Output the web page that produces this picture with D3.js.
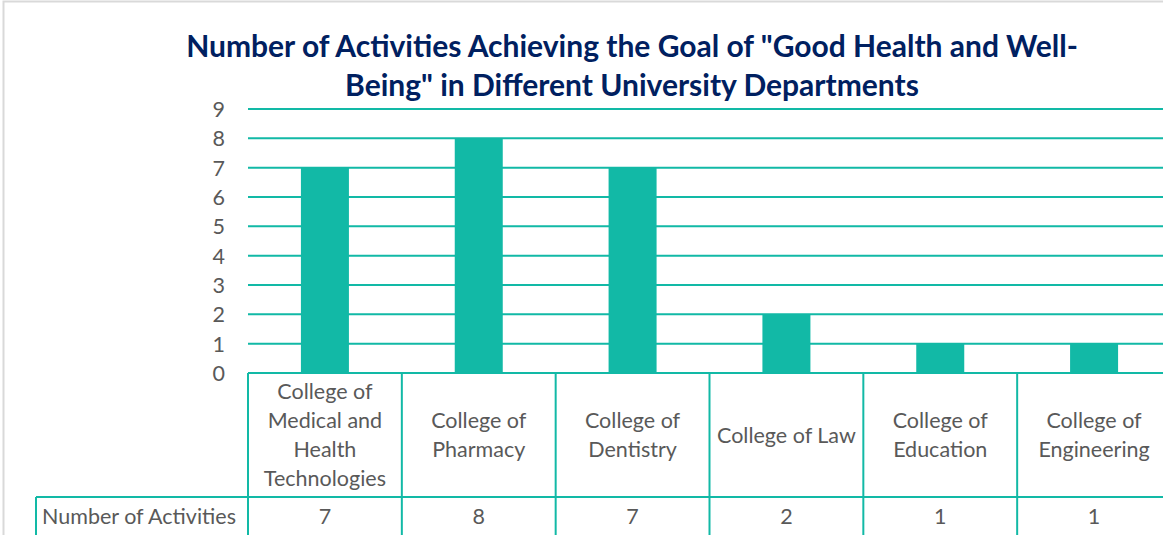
<!DOCTYPE html>
<html>
<head>
<meta charset="utf-8">
<script src="https://cdn.jsdelivr.net/npm/d3@7"></script>
<style>
  body { margin: 0; background: #fff; }
  svg { display: block; font-family: Lato, "Liberation Sans", sans-serif; }
</style>
</head>
<body>
<div id="chart"></div>
<script>
// data
const categories = [
    ["College of", "Medical and", "Health", "Technologies"],
    ["College of", "Pharmacy"],
    ["College of", "Dentistry"],
    ["College of Law"],
    ["College of", "Education"],
    ["College of", "Engineering"]
]
const activities = [7, 8, 7, 2, 1, 1]
const yTicks = [0, 1, 2, 3, 4, 5, 6, 7, 8, 9]
const titleLines = [
    "Number of Activities Achieving the Goal of \"Good Health and Well-",
    "Being\" in Different University Departments"
]
const seriesName = "Number of Activities"

const width = 1163
const height = 535
const teal = "#12b9a6"
const grey = "#595959"
const fontSize = "21.5px"

const plot = { left: 248, right: 1171, top: 109, bottom: 373 }

const svg = d3.select("#chart")
    .append("svg")
    .attr("width", width)
    .attr("height", height)

// chart border
svg.append("rect")
    .attr("x", 3.5)
    .attr("y", 1.5)
    .attr("width", width)
    .attr("height", height)
    .attr("fill", "none")
    .attr("stroke", "#d9d9d9")
    .attr("stroke-width", 2)

const xScale = d3.scaleBand()
    .domain(d3.range(categories.length))
    .range([plot.left, plot.right])
    .paddingInner(0)

const yScale = d3.scaleLinear()
    .domain([0, 9])
    .range([plot.bottom, plot.top])

// title
svg.append("g")
    .selectAll("text")
    .data(titleLines)
    .join("text")
    .attr("x", 632)
    .attr("y", (d, i) => 57 + i * 39)
    .attr("text-anchor", "middle")
    .attr("fill", "#002060")
    .style("font-weight", "bold")
    .style("font-size", "30px")
    .text(d => d)

// gridlines
svg.append("g")
    .selectAll("line")
    .data(yTicks.filter(d => d > 0))
    .join("line")
    .attr("x1", plot.left)
    .attr("x2", plot.right)
    .attr("y1", d => yScale(d))
    .attr("y2", d => yScale(d))
    .attr("stroke", teal)
    .attr("stroke-width", 2)

// y axis labels
const yAxis = d3.axisLeft(yScale)
    .tickValues(yTicks)
    .tickSize(0)
    .tickPadding(0)

const yAxisEl = svg.append("g")
    .attr("transform", `translate(225,0)`)
    .call(yAxis)
yAxisEl.select(".domain").remove()
yAxisEl.selectAll("text")
    .attr("fill", grey)
    .attr("dy", "0.35em")
    .style("font-family", "Lato, 'Liberation Sans', sans-serif")
    .style("font-size", fontSize)

// bars
const barW = 48
svg.append("g")
    .selectAll("rect")
    .data(activities)
    .join("rect")
    .attr("x", (d, i) => xScale(i) + xScale.bandwidth() / 2 - barW / 2)
    .attr("y", d => yScale(d))
    .attr("width", barW)
    .attr("height", d => yScale(0) - yScale(d))
    .attr("fill", teal)

// data table
const rowTop = plot.bottom
const rowMid = 497
const rowBottom = 560
const table = svg.append("g")
    .attr("stroke", teal)
    .attr("stroke-width", 2)

table.append("line")
    .attr("x1", plot.left).attr("x2", plot.right)
    .attr("y1", rowTop).attr("y2", rowTop)
table.append("line")
    .attr("x1", 36).attr("x2", plot.right)
    .attr("y1", rowMid).attr("y2", rowMid)
table.append("line")
    .attr("x1", 36).attr("x2", 36)
    .attr("y1", rowMid).attr("y2", rowBottom)
table.selectAll(".vline")
    .data(d3.range(categories.length + 1))
    .join("line")
    .attr("class", "vline")
    .attr("x1", d => plot.left + d * xScale.step())
    .attr("x2", d => plot.left + d * xScale.step())
    .attr("y1", rowTop)
    .attr("y2", rowBottom)

// category labels
const lineH = 29
const catCenter = (rowTop + rowMid) / 2
svg.append("g")
    .selectAll("text")
    .data(categories)
    .join("text")
    .attr("text-anchor", "middle")
    .attr("fill", grey)
    .style("font-size", fontSize)
    .each(function(lines, i) {
        const cx = xScale(i) + xScale.bandwidth() / 2
        const y0 = catCenter - (lines.length - 1) * lineH / 2
        d3.select(this).selectAll("tspan")
            .data(lines)
            .join("tspan")
            .attr("x", cx)
            .attr("y", (d, j) => y0 + j * lineH)
            .attr("dy", "0.35em")
            .text(d => d)
    })

// values row
svg.append("text")
    .attr("x", 42)
    .attr("y", 516)
    .attr("dy", "0.35em")
    .attr("fill", grey)
    .style("font-size", fontSize)
    .text(seriesName)

svg.append("g")
    .selectAll("text")
    .data(activities)
    .join("text")
    .attr("x", (d, i) => xScale(i) + xScale.bandwidth() / 2)
    .attr("y", 516)
    .attr("dy", "0.35em")
    .attr("text-anchor", "middle")
    .attr("fill", grey)
    .style("font-size", fontSize)
    .text(d => d)
</script>
</body>
</html>
